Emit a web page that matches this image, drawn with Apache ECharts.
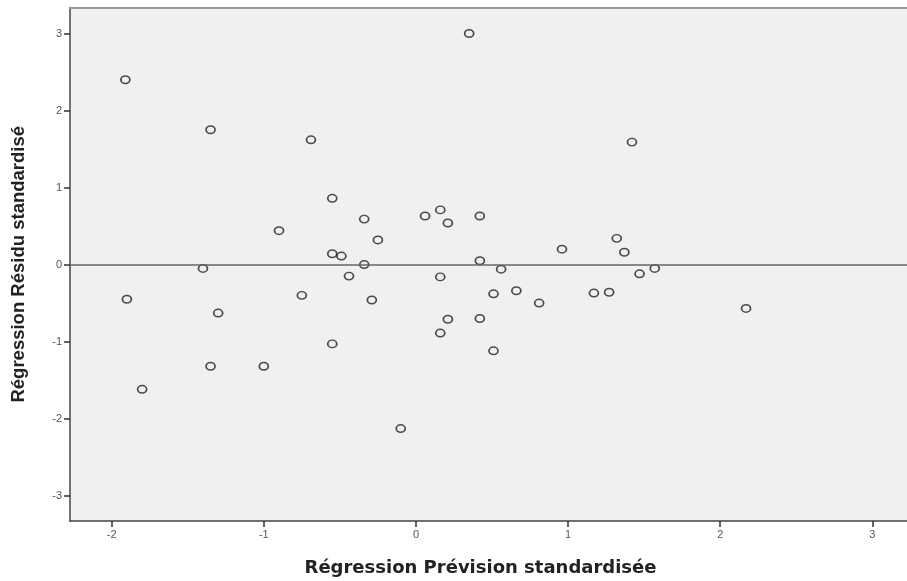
<!DOCTYPE html>
<html><head><meta charset="utf-8">
<script src="https://cdn.jsdelivr.net/npm/echarts@6/dist/echarts.min.js"></script>
<style>html,body{margin:0;padding:0;background:#fff}#c{width:907px;height:581px}</style>
</head><body><div id="c"></div>
<script>
const predicted = [-1.91,0.35,-1.35,-0.69,1.42,-0.55,-0.34,0.06,0.16,0.21,0.42,-0.90,-0.25,0.96,1.32,1.37,-0.55,-0.49,-0.34,0.42,-1.40,-0.44,0.16,0.56,1.47,1.57,-1.90,-0.75,-0.29,0.51,0.66,0.81,1.17,1.27,2.17,-1.30,0.21,0.42,0.16,-0.55,0.51,-1.35,-1.00,-1.80,-0.10];
const residual  = [2.40,3.00,1.75,1.62,1.59,0.86,0.59,0.63,0.71,0.54,0.63,0.44,0.32,0.20,0.34,0.16,0.14,0.11,0.00,0.05,-0.05,-0.15,-0.16,-0.06,-0.12,-0.05,-0.45,-0.40,-0.46,-0.38,-0.34,-0.50,-0.37,-0.36,-0.57,-0.63,-0.71,-0.70,-0.89,-1.03,-1.12,-1.32,-1.32,-1.62,-2.13];
const xTicks = [-2,-1,0,1,2,3];
const yTicks = [-3,-2,-1,0,1,2,3];
const xTitle = 'Régression Prévision standardisée';
const yTitle = 'Régression Résidu standardisé';

const points = predicted.map((x,i)=>[x,residual[i]]);
const chart = echarts.init(document.getElementById('c'));
const lbl = {color:'#555', fontSize:11, fontFamily:'Liberation Sans, Arial, sans-serif'};
chart.setOption({
  animation:false,
  backgroundColor:'#fff',
  grid:{left:70,top:7.5,right:0,bottom:60,show:true,backgroundColor:'#f0f0f0',borderWidth:0,containLabel:false,outerBoundsMode:'none'},
  xAxis:[{
    type:'value', min:-2.274, max:3.228,
    name:xTitle, nameLocation:'middle', nameGap:38,
    nameTextStyle:{fontSize:18,fontWeight:'bold',color:'#222',fontFamily:'DejaVu Sans, sans-serif',padding:[0,16,0,0]},
    axisLine:{show:true,onZero:false,lineStyle:{color:'#444',width:1.5}},
    axisTick:{show:true,length:6,lineStyle:{color:'#333',width:1.5},customValues:xTicks},
    axisLabel:Object.assign({margin:8,customValues:xTicks,formatter:v=>String(v)},lbl),
    splitLine:{show:false}
  },{
    type:'value', position:'top', min:-2.274, max:3.228,
    axisLine:{show:true,onZero:false,lineStyle:{color:'#999',width:2}},
    axisTick:{show:false},axisLabel:{show:false},splitLine:{show:false}
  }],
  yAxis:{
    type:'value', min:-3.33, max:3.338,
    name:yTitle, nameLocation:'middle', nameGap:42, nameRotate:90,
    nameTextStyle:{fontSize:18.5,fontWeight:'bold',color:'#222',fontFamily:'Liberation Sans, Arial, sans-serif'},
    axisLine:{show:true,onZero:false,lineStyle:{color:'#444',width:1.5}},
    axisTick:{show:true,length:6,lineStyle:{color:'#333',width:1.5},customValues:yTicks},
    axisLabel:Object.assign({margin:8,customValues:yTicks,formatter:v=>String(v)},lbl),
    splitLine:{show:false}
  },
  series:[{
    type:'scatter',
    data:points,
    symbol:'circle',
    symbolSize:[9,7.5],
    itemStyle:{color:'rgba(0,0,0,0)',borderColor:'#222',borderWidth:1.6},
    markLine:{
      silent:true, symbol:'none', label:{show:false},
      lineStyle:{color:'#666',width:1.5,type:'solid'},
      data:[{yAxis:0}]
    },
    z:3
  }]
});
</script></body></html>
